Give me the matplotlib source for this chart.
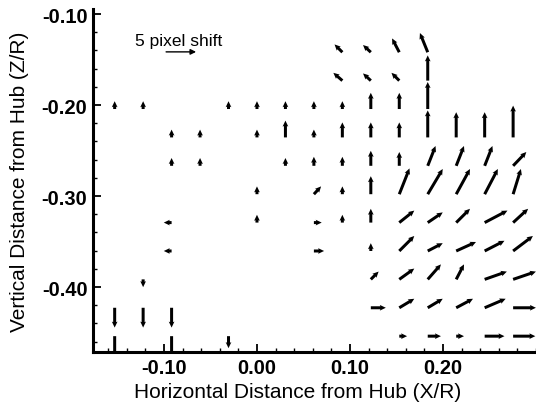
import numpy as np
import matplotlib
matplotlib.use("Agg")
import matplotlib.pyplot as plt

plt.rcParams['font.family'] = ['Liberation Sans', 'DejaVu Sans']
plt.rcParams['axes.unicode_minus'] = False

N = np.nan
# grid positions (X/R columns, Z/R rows)
x_cols = [-0.153, -0.1224, -0.0918, -0.0612, -0.0306, 0.0, 0.0306, 0.0612,
          0.0918, 0.1224, 0.153, 0.1836, 0.2142, 0.2448, 0.2754]
z_rows = [-0.1420, -0.1732, -0.2044, -0.2356, -0.2668, -0.2980,
          -0.3292, -0.3604, -0.3916, -0.4228, -0.4540]

# pixel shift components (horizontal, vertical)
U = [
    [N, N, N, N, N, N, N, N, -1.3, -1.3, -1.2, -1.3, N, N, N],
    [N, N, N, N, N, N, N, N, -1.5, -1.3, -1.3, 0, N, N, N],
    [0, 0, N, N, 0, 0, 0, 0, 0, 0, 0, 0, N, N, N],
    [N, N, 0, 0, N, 0, 0, 0, 0, 0, 0, 0, 0, 0, 0],
    [N, N, 0, 0, N, N, 0, 0, 0, 0, 0, 1.3, 1.3, 1.3, 2.2],
    [N, N, N, N, N, 0, N, 1.2, 0, 0, 1.7, 2.5, 2.3, 2.2, 1.3],
    [N, N, -1.3, N, N, 0, N, 1.3, 0, 0, 2.5, 2.5, 2.3, 3.8, 2.5],
    [N, N, -1.3, N, N, N, N, 1.7, N, 0, 2.5, 2.5, 3.3, 3.3, 3.3],
    [N, 0, N, N, N, N, N, N, N, 1.3, 2.5, 2.2, 1.3, 3.7, 3.8],
    [0, 0, 0, N, N, N, N, N, N, 2.5, 2.5, 2.5, 2.8, 3.5, 3.8],
    [0, N, 0, N, 0, N, N, N, N, N, 1.3, 2.2, 1.3, 3.3, 3.7],
]
V = [
    [N, N, N, N, N, N, N, N, 1.3, 1.2, 2.3, 3.2, N, N, N],
    [N, N, N, N, N, N, N, N, 1.3, 1.2, 1.3, 4.2, N, N, N],
    [1.3, 1.3, N, N, 1.3, 1.3, 1.3, 1.3, 1.3, 2.7, 2.7, 4.5, N, N, N],
    [N, N, 1.3, 1.3, N, 1.3, 2.8, 1.3, 2.5, 2.5, 2.5, 4.5, 4.2, 4.2, 5.3],
    [N, N, 1.3, 1.3, N, N, 1.3, 1.5, 1.5, 2.5, 2.3, 3.3, 3.3, 3.3, 2.3],
    [N, N, N, N, N, 1.3, N, 1.3, 1.3, 3.0, 4.3, 4.2, 4.2, 4.2, 4.2],
    [N, N, 0, N, N, 1.3, N, 0, 1.3, 2.3, 2.0, 1.7, 2.3, 2.0, 2.3],
    [N, N, 0, N, N, N, N, 0, N, 1.3, 2.5, 1.3, 1.5, 1.7, 2.5],
    [N, -1.3, N, N, N, N, N, N, N, 1.3, 1.8, 2.5, 2.5, 1.3, 1.3],
    [-3.3, -3.3, -3.3, N, N, N, N, N, N, 0, 1.5, 1.5, 1.5, 1.5, 0],
    [-3.7, N, -3.7, N, -2.0, N, N, N, N, N, 0, 0, 0, 0, 0],
]
ref_shift = 5
ref_label = "5 pixel shift"
x_ticks = [-0.10, 0.00, 0.10, 0.20]
z_ticks = [-0.10, -0.20, -0.30, -0.40]

px_per_shift = 6.0

fig = plt.figure(figsize=(5.36, 4.06), dpi=100)
ax = fig.add_axes([93/536, 53/406, 443/536, 343/406])

Xg, Zg = np.meshgrid(x_cols, z_rows)
Ua = np.array(U, dtype=float)
Va = np.array(V, dtype=float)
mask = ~np.isnan(Ua)
ax.quiver(Xg[mask], Zg[mask], Ua[mask], Va[mask], pivot='tail', angles='uv',
          scale_units='dots', scale=1/px_per_shift, units='dots',
          width=3.0, headwidth=1.9, headlength=2.0, headaxislength=1.8,
          minshaft=1.2, color='black')

# reference arrow
x0, y0 = 0.165, 0.875
L = ref_shift * px_per_shift / 443
ax.annotate('', xy=(x0 + L, y0), xytext=(x0, y0), xycoords='axes fraction',
            arrowprops=dict(arrowstyle='-|>', lw=1.0, color='black',
                            mutation_scale=8, shrinkA=0, shrinkB=0))
ax.text(0.095, 0.907, ref_label, transform=ax.transAxes, ha='left', va='center',
        fontsize=12.5)

ax.set_xlim(-0.1763, 0.300)
ax.set_ylim(-0.4714, -0.0945)
ax.set_xticks(x_ticks)
ax.set_yticks(z_ticks)
ax.set_xticklabels([f"{t:.2f}" for t in x_ticks], fontsize=14.5, fontweight='bold')
ax.set_yticklabels([f"{t:.2f}" for t in z_ticks], fontsize=14.5, fontweight='bold')
ax.xaxis.set_minor_locator(matplotlib.ticker.MultipleLocator(0.02))
ax.yaxis.set_minor_locator(matplotlib.ticker.MultipleLocator(0.02))
ax.tick_params(which='major', direction='in', length=6, width=1.3, pad=4)
ax.tick_params(which='minor', direction='in', length=3, width=1.0)

for s in ['top', 'right']:
    ax.spines[s].set_visible(False)
for s in ['left', 'bottom']:
    ax.spines[s].set_linewidth(2.2)

ax.set_xlabel("Horizontal Distance from Hub (X/R)", fontsize=15)
ax.set_ylabel("Vertical Distance from Hub (Z/R)", fontsize=15)
ax.xaxis.set_label_coords(0.463, -0.114)
ax.yaxis.set_label_coords(-0.167, 0.50)
ax.xaxis.label.set_va('center')
ax.yaxis.label.set_va('center')

fig.savefig("out.png", dpi=100)
